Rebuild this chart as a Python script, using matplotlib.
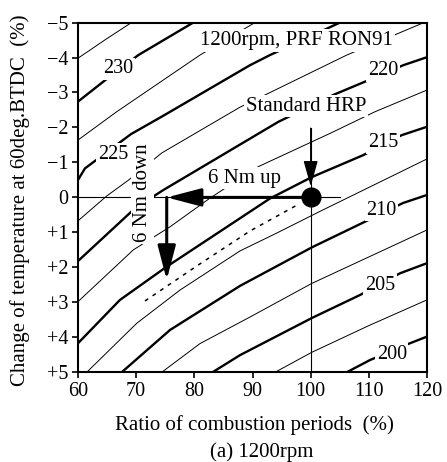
import matplotlib
matplotlib.use("Agg")
import matplotlib.pyplot as plt
from matplotlib.patches import FancyArrowPatch

plt.rcParams['font.family'] = ['Liberation Serif', 'DejaVu Serif']

# contour lines (x = ratio %, y = temperature change %)
x_2325 = [60, 64.6, 69.2]
y_2325 = [-3.98, -4.50, -5.0]
x_230 = [60, 64.35, 70.37, 79.82]
y_230 = [-2.74, -3.31, -4.07, -5.0]
x_2275 = [60, 66.65, 80.97, 90.43]
y_2275 = [-1.64, -2.45, -4.07, -5.0]
x_225 = [60, 61.2, 69.11, 74.61, 89.57, 93.0, 105.04]
y_225 = [-0.50, -0.83, -1.81, -2.33, -3.78, -4.07, -5.0]
x_2225 = [60, 64.93, 68.65, 74.39, 87.85, 106.2, 119.48]
y_2225 = [0.67, -0.04, -0.49, -1.27, -2.58, -4.07, -5.0]
x_220 = [60, 69.80, 74.66, 94.43, 103.89, 109.34, 115.92, 120]
y_220 = [1.82, 0.31, -0.21, -2.16, -2.93, -3.31, -3.78, -4.01]
x_2175 = [60, 69.51, 75.82, 82.69, 91.0, 103.32, 111.06, 120]
y_2175 = [2.98, 1.50, 0.84, 0.02, -0.88, -1.83, -2.45, -3.07]
x_215 = [60, 67.22, 75.25, 93.01, 100.18, 109.05, 115.65, 120]
y_215 = [4.17, 2.93, 1.98, 0.03, -0.58, -1.21, -1.78, -2.02]
x_2125 = [61.5, 70.09, 77.53, 87.85, 94.16, 101.71, 120]
y_2125 = [5.0, 3.60, 2.65, 1.53, 1.02, 0.39, -1.10]
x_210 = [67.51, 75.82, 87.85, 100.18, 108.77, 115.87, 120]
y_210 = [5.0, 3.79, 2.53, 1.43, 0.74, 0.16, -0.07]
x_2075 = [74.39, 80.97, 89.57, 100.18, 120]
y_2075 = [5.0, 4.18, 3.42, 2.46, 0.93]
x_205 = [83.12, 87.85, 100.18, 108.48, 115.35, 120]
y_205 = [5.0, 4.51, 3.45, 2.79, 2.17, 1.88]
x_2025 = [93.87, 100.18, 110.20, 120]
y_2025 = [5.0, 4.43, 3.65, 2.93]
x_200 = [106.19, 110.20, 117.07, 120]
y_200 = [5.0, 4.65, 4.17, 3.98]

levels = [232.5, 230, 227.5, 225, 222.5, 220, 217.5, 215, 212.5, 210, 207.5, 205, 202.5, 200]
lines_x = [x_2325, x_230, x_2275, x_225, x_2225, x_220, x_2175, x_215,
           x_2125, x_210, x_2075, x_205, x_2025, x_200]
lines_y = [y_2325, y_230, y_2275, y_225, y_2225, y_220, y_2175, y_215,
           y_2125, y_210, y_2075, y_205, y_2025, y_200]

# contour labels
label_text = ['230', '225', '220', '215', '210', '205', '200']
label_x = [66.88, 66.02, 112.43, 112.43, 112.21, 111.92, 113.93]
label_y = [-3.68, -1.23, -3.63, -1.57, 0.37, 2.52, 4.48]

# dashed path of the shifted HRP
dash_x = [71.52, 80.97, 89.57, 97.65]
dash_y = [2.96, 1.90, 0.96, 0.22]

# standard HRP point
hrp_x = [100]
hrp_y = [0]

xticks = [60, 70, 80, 90, 100, 110, 120]
yticks = [-5, -4, -3, -2, -1, 0, 1, 2, 3, 4, 5]
ytick_labels = ['\u22125', '\u22124', '\u22123', '\u22122', '\u22121', '0',
                '+1', '+2', '+3', '+4', '+5']

fig = plt.figure(figsize=(4.47, 4.62), dpi=100)
ax = fig.add_axes([0.1745, 0.1942, 0.7808, 0.757])

for lx, ly, lev in zip(lines_x, lines_y, levels):
    thick = lev % 5 == 0
    ax.plot(lx, ly, color='black', lw=1.7 if thick else 0.7,
            solid_capstyle='butt', zorder=2)

for t, tx, ty in zip(label_text, label_x, label_y):
    ax.text(tx, ty, t, fontsize=14.5, ha='center', va='center', zorder=4,
            bbox=dict(boxstyle='square,pad=0.08', fc='white', ec='none'))

ax.plot(dash_x, dash_y, color='black', lw=1.1, linestyle=(0, (2.5, 3.5)), zorder=2)

# thin reference lines through the standard point
ax.plot([60, 105], [0, 0], color='black', lw=0.8, zorder=2)
ax.plot([100, 100], [-1.98, 5], color='black', lw=0.8, zorder=2)

# arrows
arr_up = FancyArrowPatch((100, 0), (75.25, 0),
                         arrowstyle='-|>,head_length=2.1,head_width=0.55',
                         mutation_scale=10, lw=2.2, color='black',
                         shrinkA=0, shrinkB=0, zorder=5)
ax.add_patch(arr_up)
arr_down = FancyArrowPatch((75.25, 0), (75.25, 2.36),
                           arrowstyle='-|>,head_length=2.1,head_width=0.55',
                           mutation_scale=10, lw=2.2, color='black',
                           shrinkA=0, shrinkB=0, zorder=5)
ax.add_patch(arr_down)
arr_std = FancyArrowPatch((100, -1.98), (100, -0.32),
                          arrowstyle='-|>,head_length=1.6,head_width=0.45',
                          mutation_scale=10, lw=0.9, color='black',
                          shrinkA=0, shrinkB=0, zorder=5)
ax.add_patch(arr_std)

ax.plot(hrp_x, hrp_y, 'o', ms=13.5, color='black', zorder=6)

box = dict(boxstyle='square,pad=0.08', fc='white', ec='none')
ax.text(97.56, -4.49, '1200rpm, PRF RON91', fontsize=15, ha='center', va='center',
        zorder=4, bbox=box)
ax.text(99.2, -2.61, 'Standard HRP', fontsize=15, ha='center', va='center',
        zorder=4, bbox=box)
ax.text(88.54, -0.55, '6 Nm up', fontsize=15, ha='center', va='center',
        zorder=4, bbox=box)
ax.text(71.1, -0.13, '6 Nm down', fontsize=15, ha='center', va='center',
        rotation=90, zorder=4, bbox=box)

ax.set_xlim(60, 120)
ax.set_ylim(5, -5)
ax.set_xticks(xticks)
ax.set_yticks(yticks)
ax.set_yticklabels(ytick_labels)
ax.tick_params(direction='out', length=4.5, width=1.2, labelsize=14.5, pad=2.5)
for sp in ax.spines.values():
    sp.set_linewidth(1.5)

fig.text(0.569, 0.080, 'Ratio of combustion periods  (%)', fontsize=15,
         ha='center', va='center')
fig.text(0.586, 0.0216, '(a) 1200rpm', fontsize=15, ha='center', va='center')
fig.text(0.0447, 0.567, 'Change of temperature at 60deg.BTDC  (%)', fontsize=15,
         ha='center', va='center', rotation=90)

fig.savefig('out.png', dpi=100)
